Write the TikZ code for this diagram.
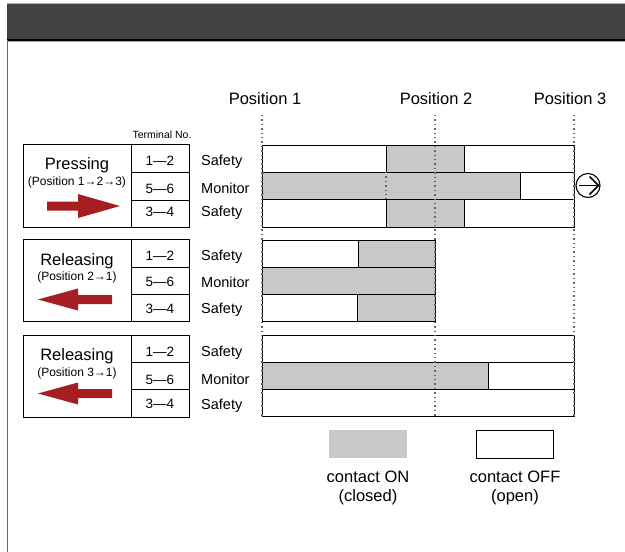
\documentclass[tikz,border=0pt]{standalone}
\usepackage{fontspec}
\setmainfont{Liberation Sans}
\definecolor{hdr}{HTML}{414143}
\definecolor{cgray}{HTML}{C8C8C8}
\definecolor{cred}{HTML}{A51E22}
\begin{document}
\begin{tikzpicture}[x=1pt,y=-1pt,
  box/.style={draw=black,line width=0.9pt},
  onbar/.style={fill=cgray},
  offbar/.style={fill=white},
  bord/.style={draw=black,line width=0.9pt},
  posline/.style={draw=black!60,line width=1.1pt,dash pattern=on 1.4pt off 3pt},
  title/.style={font=\fontsize{16.5}{18}\selectfont,anchor=base,inner sep=0},
  sub/.style={font=\fontsize{12}{14}\selectfont,anchor=base,inner sep=0},
  term/.style={font=\fontsize{13.5}{15}\selectfont,anchor=base,inner sep=0},
  sig/.style={font=\fontsize{14.5}{16}\selectfont,anchor=base west,inner sep=0},
  redarrow/.style={fill=cred}]
\useasboundingbox (0,0) rectangle (625,552);
\fill[white] (0,0) rectangle (625,552);
% header
\fill[hdr] (7,4) rectangle (625,39.5);
\draw[black!30,line width=1pt] (7,3.5) -- (625,3.5);
\draw[black,line width=1.3pt] (7,40) -- (625,40);
\draw[black!35,line width=0.8pt] (7,41.3) -- (625,41.3);
\draw[black!60,line width=1pt] (7,39.5) -- (7,552);

% position labels
\node[title] (p1) at (265,104.5) {Position 1};
\node[title] (p2) at (436,104.5) {Position 2};
\node[title] (p3) at (570,104.5) {Position 3};
\node[font=\fontsize{10.5}{12}\selectfont,anchor=base,inner sep=0] (tn) at (162,138) {Terminal No.};

% ===== Pressing block =====
\draw[box] (23,144) rectangle (131,227);
\draw[box] (131,144) rectangle (189,227);
\draw[box] (131,172) -- (189,172) (131,200) -- (189,200);
\node[title] (pr) at (77,169) {Pressing};
\node[sub] (prs) at (77,185) {(Position 1→2→3)};
\fill[redarrow] (47,201.5) -- (78,201.5) -- (78,194) -- (120,206) -- (78,218) -- (78,210.5) -- (47,210.5) -- cycle;
\node[term] (a1) at (160,165) {1—2};
\node[term] (a2) at (160,193) {5—6};
\node[term] (a3) at (160,216.5) {3—4};
\node[sig] (as1) at (201,165) {Safety};
\node[sig] (am) at (201,193) {Monitor};
\node[sig] (as2) at (201,216.5) {Safety};
% bars
\fill[offbar] (262,145) rectangle (574,172);
\fill[onbar] (386,145) rectangle (464,172);
\fill[onbar] (262,172) rectangle (520,199);
\fill[offbar] (520,172) rectangle (574,199);
\fill[offbar] (262,199) rectangle (574,227);
\fill[onbar] (386,199) rectangle (464,227);
\draw[bord] (262,145) rectangle (574,227);
\draw[bord] (262,172) -- (574,172) (262,199) -- (574,199);
\draw[bord] (386,145) -- (386,172) (464,145) -- (464,172);
\draw[bord] (386,199) -- (386,227) (464,199) -- (464,227);
\draw[bord] (520,172) -- (520,199);
\draw[posline] (386,172) -- (386,199);
% circled arrow
\draw[line width=1.1pt] (588,185.5) circle (12);
\draw[line width=1.5pt] (579,185.5) -- (598,185.5);
\draw[line width=1.5pt,line join=miter] (589.5,176.5) -- (598.5,185.5) -- (589.5,194.5);

% ===== Releasing 2->1 =====
\draw[box] (23,239) rectangle (131,321);
\draw[box] (131,239) rectangle (189,321);
\draw[box] (131,267) -- (189,267) (131,294) -- (189,294);
\node[title] (r1) at (77,265.7) {Releasing};
\node[sub] (r1s) at (77,280.7) {(Position 2→1)};
\fill[redarrow] (38,299.5) -- (78,288.5) -- (78,295) -- (112,295) -- (112,304) -- (78,304) -- (78,310.5) -- cycle;
\node[term] (b1) at (160,260) {1—2};
\node[term] (b2) at (160,286.7) {5—6};
\node[term] (b3) at (160,313) {3—4};
\node[sig] (bs1) at (201,260) {Safety};
\node[sig] (bm) at (201,287) {Monitor};
\node[sig] (bs2) at (201,313.5) {Safety};
\fill[offbar] (262,240) rectangle (358,267);
\fill[onbar] (358,240) rectangle (435,267);
\fill[onbar] (262,267) rectangle (435,294);
\fill[offbar] (262,294) rectangle (357,321);
\fill[onbar] (357,294) rectangle (435,321);
\draw[bord] (262,240) rectangle (435,321);
\draw[bord] (262,267) -- (435,267) (262,294) -- (435,294);
\draw[bord] (358,240) -- (358,267) (357,294) -- (357,321);

% ===== Releasing 3->1 =====
\draw[box] (23,335) rectangle (131,417);
\draw[box] (131,335) rectangle (189,417);
\draw[box] (131,362) -- (189,362) (131,389) -- (189,389);
\node[title] (r2) at (77,360.7) {Releasing};
\node[sub] (r2s) at (77,376.7) {(Position 3→1)};
\fill[redarrow] (38,393.5) -- (78,382.5) -- (78,389) -- (112,389) -- (112,398) -- (78,398) -- (78,404.5) -- cycle;
\node[term] (c1) at (160,356) {1—2};
\node[term] (c2) at (160,384) {5—6};
\node[term] (c3) at (160,408) {3—4};
\node[sig] (cs1) at (201,356.5) {Safety};
\node[sig] (cm) at (201,384) {Monitor};
\node[sig] (cs2) at (201,409) {Safety};
\fill[offbar] (262,335) rectangle (574,416);
\fill[onbar] (262,362) rectangle (488,389);
\draw[bord] (262,335) rectangle (574,416);
\draw[bord] (262,362) -- (574,362) (262,389) -- (574,389);
\draw[bord] (488,362) -- (488,389);

% position dotted lines
\draw[posline] (262,115) -- (262,417);
\draw[posline] (435,115) -- (435,417);
\draw[posline] (574,115) -- (574,417);

% legend
\fill[cgray] (329,430) rectangle (407,458);
\draw[line width=0.9pt] (476,430) rectangle (553,458);
\node[title] (lon) at (368,482.7) {contact ON};
\node[title] (lonb) at (368,501) {(closed)};
\node[title] (loff) at (515,482.7) {contact OFF};
\node[title] (loffb) at (515,501) {(open)};
\end{tikzpicture}
\end{document}
